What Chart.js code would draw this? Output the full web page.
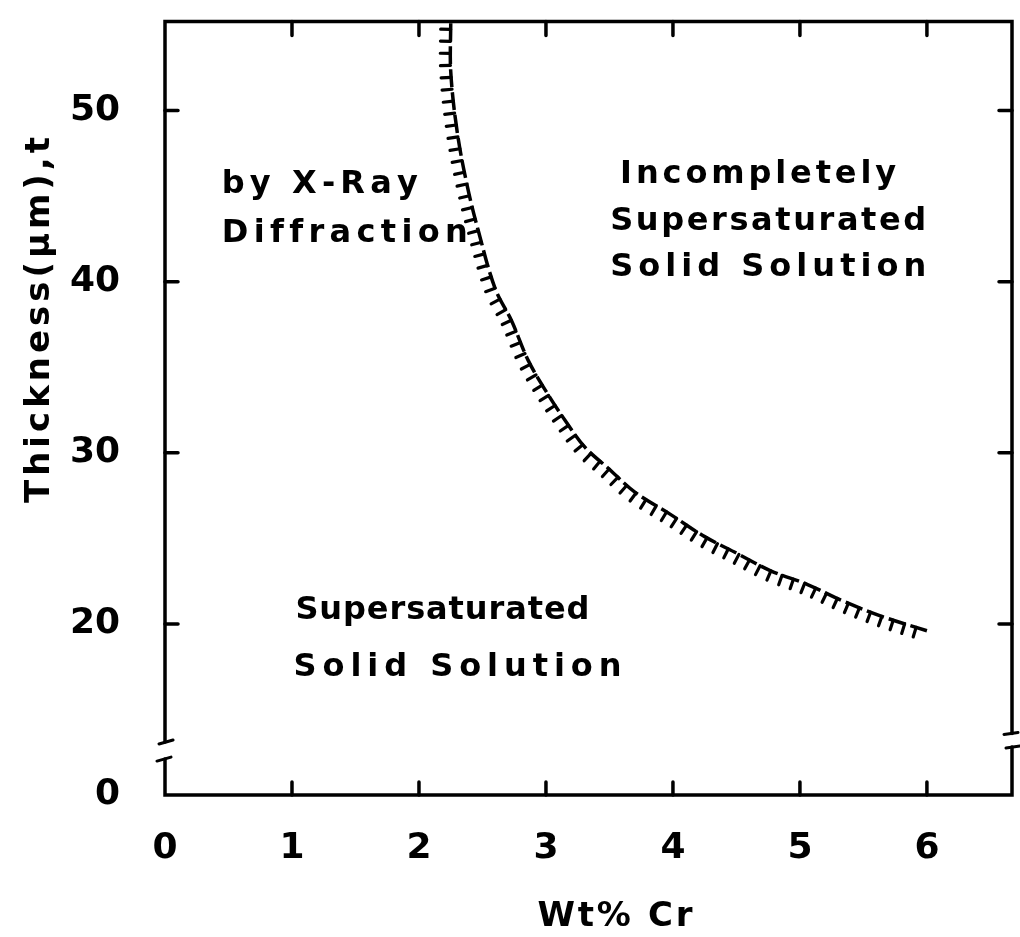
<!DOCTYPE html>
<html>
<head>
<meta charset="utf-8">
<script src="https://cdn.jsdelivr.net/npm/chart.js@4.4.1/dist/chart.umd.min.js"></script>
<style>
  html, body { margin: 0; padding: 0; background: #fff; }
</style>
</head>
<body>
<canvas id="myChart" width="1020" height="937"></canvas>
<script>
// limit of the supersaturated solid solution (Wt% Cr vs film thickness)
const wtCr      = [2.25, 2.25, 2.30, 2.38, 2.47, 2.60, 2.73, 2.86, 3.00, 3.15, 3.31, 3.49, 3.70, 3.98, 4.25, 4.51, 4.77, 5.06, 5.35, 5.66, 6.00];
const thickness = [55.1, 52.3, 48.8, 45.6, 42.9, 39.6, 37.7, 35.4, 33.6, 31.9, 30.3, 29.1, 27.7, 26.4, 25.1, 24.1, 23.1, 22.3, 21.3, 20.4, 19.6];

// y axis is broken under 20: the "0" tick sits one step below 20
const yTicks     = [10, 20, 30, 40, 50];
const yTickText  = ['0', '20', '30', '40', '50'];
const xTicks     = [0, 1, 2, 3, 4, 5, 6];
const xTitle     = 'Wt% Cr';
const yTitle     = 'Thickness(\u03bcm),t';
const regionText = ['by X-Ray', 'Diffraction',
                    'Incompletely', 'Supersaturated', 'Solid Solution',
                    'Supersaturated', 'Solid Solution'];

const FONT = '"DejaVu Sans", sans-serif';
const INK = '#000';

// text stretched over a given width by spacing the letters
function fitText(ctx, text, x, y, width, align) {
    const widths = [];
    let sum = 0;
    for (const ch of text) {
        const cw = ctx.measureText(ch).width;
        widths.push(cw);
        sum += cw;
    }
    const gap = (width - sum) / (widths.length - 1);
    let cx = align === 'center' ? x - width / 2 : x;
    let i = 0;
    ctx.textAlign = 'left';
    for (const ch of text) {
        ctx.fillText(ch, cx, y);
        cx += widths[i++] + gap;
    }
}

const frame = {
    id: 'frame',
    afterDatasetsDraw(chart) {
        const ctx = chart.ctx;
        const xs = chart.scales.x, ys = chart.scales.y;
        const a = chart.chartArea;
        const L = a.left, R = a.right, T = a.top, B = a.bottom;
        ctx.save();
        ctx.strokeStyle = INK;
        ctx.fillStyle = INK;
        ctx.lineCap = 'round';

        // hatching on the inner side of the boundary
        const pts = chart.getDatasetMeta(0).data;
        const path = [];
        for (let i = 0; i < pts.length - 1; i++) {
            const p0 = pts[i], p1 = pts[i + 1];
            const c1x = p0.cp2x ?? p0.x, c1y = p0.cp2y ?? p0.y;
            const c2x = p1.cp1x ?? p1.x, c2y = p1.cp1y ?? p1.y;
            for (let k = 0; k < 20; k++) {
                const t = k / 20, u = 1 - t;
                path.push([
                    u*u*u*p0.x + 3*u*u*t*c1x + 3*u*t*t*c2x + t*t*t*p1.x,
                    u*u*u*p0.y + 3*u*u*t*c1y + 3*u*t*t*c2y + t*t*t*p1.y
                ]);
            }
        }
        path.push([pts[pts.length - 1].x, pts[pts.length - 1].y]);
        const step = 12, hl = 10;
        let next = 6, run = 0;
        ctx.lineWidth = 3.2;
        for (let i = 1; i < path.length; i++) {
            const dx = path[i][0] - path[i - 1][0], dy = path[i][1] - path[i - 1][1];
            const len = Math.hypot(dx, dy);
            while (len > 0 && run + len >= next) {
                const f = (next - run) / len;
                const px = path[i - 1][0] + dx * f, py = path[i - 1][1] + dy * f;
                const nx = -dy / len, ny = dx / len;
                if (py > T + 4) {
                    ctx.beginPath();
                    ctx.moveTo(px, py);
                    ctx.lineTo(px + nx * hl, py + ny * hl);
                    ctx.stroke();
                }
                next += step;
            }
            run += len;
        }

        // frame with axis breaks
        ctx.lineWidth = 3.5;
        const lHi = ys.getPixelForValue(13.1), lLo = ys.getPixelForValue(12.1);
        const rHi = ys.getPixelForValue(13.6), rLo = ys.getPixelForValue(12.8);
        ctx.beginPath();
        ctx.moveTo(L, lHi); ctx.lineTo(L, T); ctx.lineTo(R, T); ctx.lineTo(R, rHi);
        ctx.moveTo(R, rLo); ctx.lineTo(R, B); ctx.lineTo(L, B); ctx.lineTo(L, lLo);
        ctx.stroke();
        ctx.lineWidth = 3;
        ctx.beginPath();
        ctx.moveTo(L - 6, lHi + 2); ctx.lineTo(L + 8, lHi - 2);
        ctx.moveTo(L - 8, lLo + 2); ctx.lineTo(L + 6, lLo - 2);
        ctx.moveTo(R - 8, rHi + 1); ctx.lineTo(R + 6, rHi - 1);
        ctx.moveTo(R - 6, rLo + 1); ctx.lineTo(R + 8, rLo - 1);
        ctx.stroke();

        // inward ticks
        ctx.lineWidth = 3.5;
        ctx.beginPath();
        xTicks.slice(1).forEach(v => {
            const px = xs.getPixelForValue(v);
            ctx.moveTo(px, B); ctx.lineTo(px, B - 13);
            ctx.moveTo(px, T); ctx.lineTo(px, T + 14);
        });
        yTicks.slice(1).forEach(v => {
            const py = ys.getPixelForValue(v);
            ctx.moveTo(L, py); ctx.lineTo(L + 13, py);
            ctx.moveTo(R, py); ctx.lineTo(R - 13, py);
        });
        ctx.stroke();

        // region names: [x, y] in data units, width in px
        const place = [
            [0.447, 45.69, 196, 'left'], [0.447, 42.83, 246, 'left'],
            [3.584, 46.27, 276, 'left'], [3.506, 43.53, 316, 'left'], [3.506, 40.79, 316, 'left'],
            [1.027, 20.79, 294, 'left'], [1.012, 17.46, 328, 'left']
        ];
        ctx.textBaseline = 'middle';
        ctx.font = 'bold 32px ' + FONT;
        regionText.forEach((t, i) => {
            const p = place[i];
            fitText(ctx, t, xs.getPixelForValue(p[0]), ys.getPixelForValue(p[1]), p[2], p[3]);
        });

        // axis titles
        ctx.font = 'bold 34px ' + FONT;
        fitText(ctx, xTitle, 615, 917, 155, 'center');
        ctx.translate(40, 320);
        ctx.rotate(-Math.PI / 2);
        fitText(ctx, yTitle, 0, 0, 366, 'center');
        ctx.restore();
    }
};

const ctx = document.getElementById('myChart').getContext('2d');
const data = {
    datasets: [{
        data: wtCr.map((x, i) => ({ x: x, y: thickness[i] })),
        showLine: true,
        borderColor: INK,
        borderWidth: 3.5,
        borderDash: [18, 5],
        tension: 0.35,
        pointRadius: 0,
        clip: false
    }]
};
const config = {
    type: 'scatter',
    data: data,
    options: {
        responsive: false,
        animation: false,
        devicePixelRatio: 1,
        layout: { padding: { top: 20, right: 8, left: 0, bottom: 0 } },
        plugins: { legend: { display: false }, tooltip: { enabled: false } },
        scales: {
            x: {
                type: 'linear',
                min: 0,
                max: 6.67,
                // tick marks are drawn by the frame plugin; tickLength only offsets the labels
                grid: { display: false, drawTicks: true, tickLength: 32 },
                border: { display: false },
                afterBuildTicks: s => { s.ticks = xTicks.map(v => ({ value: v })); },
                afterFit: s => { s.height = 142; },
                ticks: {
                    color: INK,
                    padding: 0,
                    maxRotation: 0,
                    autoSkip: false,
                    font: { family: FONT, size: 36, weight: 'bold' }
                }
            },
            y: {
                type: 'linear',
                min: 10,
                max: 55.2,
                grid: { display: false, drawTicks: true, tickLength: 45 },
                border: { display: false },
                afterBuildTicks: s => { s.ticks = yTicks.map(v => ({ value: v })); },
                afterFit: s => { s.width = 165; },
                ticks: {
                    color: INK,
                    padding: 0,
                    autoSkip: false,
                    font: { family: FONT, size: 36, weight: 'bold' },
                    callback: v => yTickText[yTicks.indexOf(v)]
                }
            }
        }
    },
    plugins: [frame]
};
const myChart = new Chart(ctx, config);
</script>
</body>
</html>
